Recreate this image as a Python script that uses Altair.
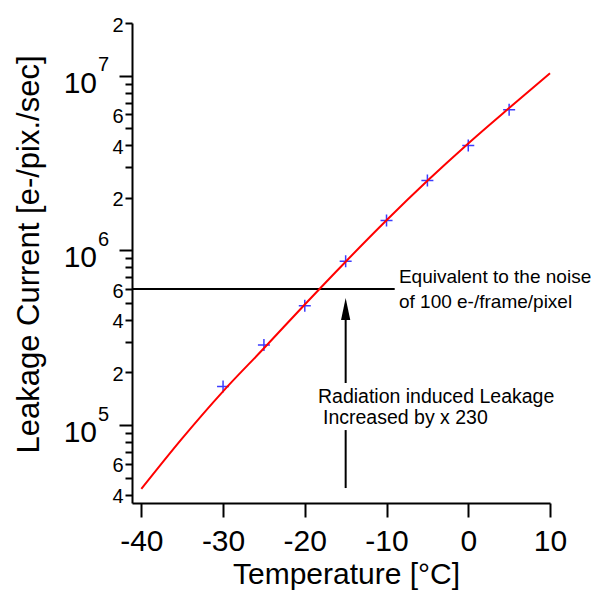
import altair as alt
import pandas as pd

FONT = "Liberation Sans"

# measured points (blue crosses)
temp_pts = [-30, -25, -20, -15, -10, -5, 0, 5]
leak_pts = [1.66e5, 2.87e5, 4.81e5, 8.65e5, 1.48e6, 2.51e6, 3.98e6, 6.37e6]

# fitted curve (red line)
fit_temp = [-40, -35, -30, -25, -20, -15, -10, -5, 0, 5, 10]
fit_leak = [4.31e4, 8.39e4, 1.56e5, 2.75e5, 4.90e5, 8.61e5, 1.486e6, 2.50e6, 4.09e6, 6.52e6, 1.03e7]

# axes
x_ticks = [-40, -30, -20, -10, 0, 10]
y_ticks = [4e4, 5e4, 6e4, 7e4, 8e4, 9e4,
           1e5, 2e5, 3e5, 4e5, 5e5, 6e5, 7e5, 8e5, 9e5,
           1e6, 2e6, 3e6, 4e6, 5e6, 6e6, 7e6, 8e6, 9e6,
           1e7, 2e7]
major_ticks = [1e5, 1e6, 1e7]
major_exp = ["5", "6", "7"]

x_domain = [-41.14, 10]
y_domain = [3.58e4, 2e7]

# annotations
noise_level = 6e5
noise_line_end = -9
arrow_temp = -15
arrow_lower = [4.36e4, 9.36e4]
arrow_upper = [1.74e5, 4.09e5]
arrow_head_at = 4.61e5
noise_text = ["Equivalent to the noise", "of 100 e-/frame/pixel"]
noise_text_t = [-8.48, -8.48]
noise_text_v = [7.03e5, 5.06e5]
rad_text = ["Radiation induced Leakage", "Increased by x 230"]
rad_text_t = [-18.39, -17.77]
rad_text_v = [1.445e5, 1.096e5]

xs = alt.Scale(domain=x_domain, nice=False, zero=False)
ys = alt.Scale(type="log", domain=y_domain, nice=False)

m = "round(datum.value / pow(10, floor(log(datum.value) / LN10 + 1e-6)))"
label_expr = f"({m} == 2 || {m} == 4 || {m} == 6) ? '' + {m} : ''"

x_axis = alt.Axis(values=x_ticks, title="Temperature [°C]", grid=False,
                  labelExpr="'' + datum.value",
                  tickSize=14, tickWidth=2, tickColor="black",
                  domainWidth=2, domainColor="black",
                  labelFont=FONT, labelFontSize=30, labelColor="black",
                  labelPadding=9, labelFlush=False, labelOverlap=False,
                  titleFont=FONT, titleFontSize=30, titleFontWeight="normal",
                  titleColor="black", titleX=214, titleY=80,
                  titleBaseline="alphabetic", titleAlign="center")
y_axis = alt.Axis(values=y_ticks, labelExpr=label_expr,
                  title="Leakage Current [e-/pix./sec]", grid=False,
                  tickSize={"condition": {"test": f"{m} == 1", "value": 13}, "value": 7},
                  tickWidth=2, tickColor="black",
                  domainWidth=2, domainColor="black",
                  labelFont=FONT, labelFontSize=20, labelColor="black",
                  labelPadding=2, labelOffset=2, labelFlush=False, labelOverlap=False,
                  titleFont=FONT, titleFontSize=31, titleFontWeight="normal",
                  titleColor="black", titleX=-103, titleY=231, titleAngle=-90,
                  titleAlign="center", titleBaseline="middle")

pts_df = pd.DataFrame({"t": temp_pts, "v": leak_pts})
fit_df = pd.DataFrame({"t": fit_temp, "v": fit_leak})

points = alt.Chart(pts_df).mark_point(
    shape="M-1,0L1,0M0,-1L0,1", size=144, filled=False,
    color="#3c3cff", strokeWidth=1.5, opacity=1
).encode(
    x=alt.X("t:Q", scale=xs, axis=x_axis),
    y=alt.Y("v:Q", scale=ys, axis=y_axis),
)

fit_line = alt.Chart(fit_df).mark_line(
    color="#ff0000", strokeWidth=2, interpolate="monotone"
).encode(
    x=alt.X("t:Q", scale=xs, axis=None),
    y=alt.Y("v:Q", scale=ys, axis=None),
)

hline = alt.Chart(pd.DataFrame({"t": [x_domain[0]], "t2": [noise_line_end], "v": [noise_level]})).mark_rule(
    color="black", strokeWidth=2
).encode(
    x=alt.X("t:Q", scale=xs, axis=None), x2="t2:Q",
    y=alt.Y("v:Q", scale=ys, axis=None),
)

shaft_df = pd.DataFrame({"t": [arrow_temp, arrow_temp],
                         "v": [arrow_lower[0], arrow_upper[0]],
                         "v2": [arrow_lower[1], arrow_upper[1]]})
shaft = alt.Chart(shaft_df).mark_rule(color="black", strokeWidth=2).encode(
    x=alt.X("t:Q", scale=xs, axis=None),
    y=alt.Y("v:Q", scale=ys, axis=None), y2="v2:Q",
)

head = alt.Chart(pd.DataFrame({"t": [arrow_temp], "v": [arrow_head_at]})).mark_point(
    shape="M0,-1L0.42,1L-0.42,1Z", size=484, filled=True, color="black", opacity=1
).encode(
    x=alt.X("t:Q", scale=xs, axis=None),
    y=alt.Y("v:Q", scale=ys, axis=None),
)

ann_df = pd.DataFrame({"t": noise_text_t + rad_text_t,
                       "v": noise_text_v + rad_text_v,
                       "s": noise_text + rad_text,
                       "fs": [19, 19, 19.5, 19.5]})
ann = alt.Chart(ann_df).mark_text(
    align="left", baseline="middle", font=FONT, color="black"
).encode(
    x=alt.X("t:Q", scale=xs, axis=None),
    y=alt.Y("v:Q", scale=ys, axis=None),
    text="s:N",
    size=alt.Size("fs:Q", scale=None, legend=None),
)

maj_df = pd.DataFrame({"v": major_ticks, "e": major_exp})
maj10 = alt.Chart(maj_df).mark_text(
    align="right", baseline="alphabetic", dy=17, font=FONT, fontSize=30, color="black"
).encode(
    x=alt.value(-35),
    y=alt.Y("v:Q", scale=ys, axis=None),
    text=alt.value("10"),
)
majexp = alt.Chart(maj_df).mark_text(
    align="left", baseline="alphabetic", dy=-4.5, font=FONT, fontSize=20, color="black"
).encode(
    x=alt.value(-34),
    y=alt.Y("v:Q", scale=ys, axis=None),
    text="e:N",
)

chart = alt.layer(points, hline, shaft, head, fit_line, ann, maj10, majexp).resolve_axis(
    x="independent", y="independent"
).properties(
    width=418, height=480,
    autosize=alt.AutoSizeParams(type="none"),
    padding={"left": 124, "top": 15, "right": 41, "bottom": 88},
).configure_view(stroke=None)

chart.save("out.html", embed_options={"renderer": "svg", "actions": False})
